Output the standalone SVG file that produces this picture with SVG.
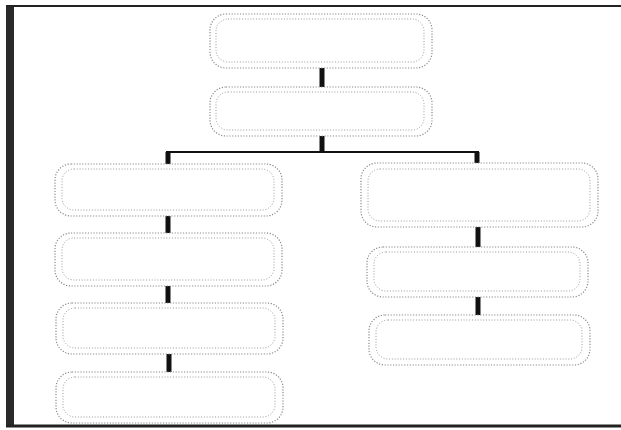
<svg xmlns="http://www.w3.org/2000/svg" width="621" height="430" viewBox="0 0 621 430">
<style>
.o{fill:none;stroke:#8a8a8a;stroke-width:1.2;stroke-dasharray:1.2 1.6}
.i{fill:none;stroke:#9a9a9a;stroke-width:1;stroke-dasharray:1 1.8}
.c{stroke:#111;stroke-width:5;fill:none}
.h{stroke:#111;stroke-width:2;fill:none}
</style>
<rect width="621" height="430" fill="#fff"/>
<g id="frame">
<rect x="6" y="5" width="8" height="422" fill="#2a2a2a"/>
<line x1="6" y1="6" x2="621" y2="6" stroke="#222" stroke-width="2"/>
<line x1="6" y1="426" x2="621" y2="426" stroke="#222" stroke-width="3"/>
</g>
<g id="connectors">
<line class="c" x1="322" y1="68" x2="322" y2="87"/>
<line class="c" x1="322" y1="136" x2="322" y2="152"/>
<line class="h" x1="166" y1="152" x2="479" y2="152"/>
<line class="c" x1="168" y1="152" x2="168" y2="164"/>
<line class="c" x1="477" y1="152" x2="477" y2="163"/>
<line class="c" x1="168" y1="216" x2="168" y2="233"/>
<line class="c" x1="168" y1="286" x2="168" y2="303"/>
<line class="c" x1="169" y1="354" x2="169" y2="372"/>
<line class="c" x1="478" y1="227" x2="478" y2="247"/>
<line class="c" x1="478" y1="297" x2="478" y2="315"/>
</g>
<g id="top1"><rect class="o" x="210" y="14" width="222" height="54" rx="16"/><rect class="i" x="216" y="19" width="208" height="43" rx="12"/></g>
<g id="top2"><rect class="o" x="210" y="87" width="222" height="49" rx="16"/><rect class="i" x="216" y="92" width="208" height="38" rx="12"/></g>
<g id="left1"><rect class="o" x="55" y="164" width="227" height="52" rx="16"/><rect class="i" x="62" y="169" width="212" height="41" rx="12"/></g>
<g id="left2"><rect class="o" x="55" y="233" width="227" height="53" rx="16"/><rect class="i" x="62" y="238" width="212" height="42" rx="12"/></g>
<g id="left3"><rect class="o" x="56" y="303" width="227" height="51" rx="16"/><rect class="i" x="63" y="308" width="212" height="40" rx="12"/></g>
<g id="left4"><rect class="o" x="56" y="372" width="227" height="51" rx="16"/><rect class="i" x="63" y="377" width="212" height="40" rx="12"/></g>
<g id="right1"><rect class="o" x="361" y="163" width="237" height="64" rx="16"/><rect class="i" x="368" y="169" width="222" height="52" rx="12"/></g>
<g id="right2"><rect class="o" x="367" y="247" width="221" height="50" rx="16"/><rect class="i" x="374" y="252" width="206" height="39" rx="12"/></g>
<g id="right3"><rect class="o" x="369" y="315" width="221" height="50" rx="16"/><rect class="i" x="376" y="320" width="206" height="39" rx="12"/></g>
</svg>
